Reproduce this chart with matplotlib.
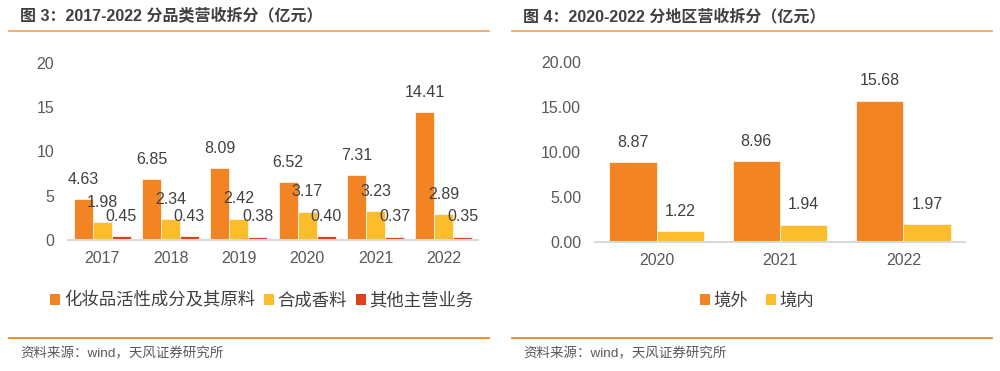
import matplotlib
matplotlib.use("Agg")
import matplotlib.pyplot as plt
from matplotlib.patches import Patch
from matplotlib.lines import Line2D
import numpy as np

plt.rcParams['font.family'] = ['Liberation Sans', 'Noto Sans CJK SC', 'DejaVu Sans']

# ---------------- data ----------------
years_left = ['2017', '2018', '2019', '2020', '2021', '2022']
cosmetic_active = [4.63, 6.85, 8.09, 6.52, 7.31, 14.41]
synthetic_fragrance = [1.98, 2.34, 2.42, 3.17, 3.23, 2.89]
other_main = [0.45, 0.43, 0.38, 0.40, 0.37, 0.35]
left_series_names = ['化妆品活性成分及其原料', '合成香料', '其他主营业务']
left_yticks = [0, 5, 10, 15, 20]

years_right = ['2020', '2021', '2022']
overseas = [8.87, 8.96, 15.68]
domestic = [1.22, 1.94, 1.97]
right_series_names = ['境外', '境内']
right_yticks = [0.0, 5.0, 10.0, 15.0, 20.0]

title_left = '图 3：2017-2022 分品类营收拆分（亿元）'
title_right = '图 4：2020-2022 分地区营收拆分（亿元）'
source_text = '资料来源：wind，天风证券研究所'

# ---------------- style ----------------
C_ORANGE = '#F28424'
C_YELLOW = '#FBBD2C'
C_RED = '#DF3F1C'
TXT = '#404040'
TICK = '#595959'
AXIS = '#D9D9D9'
LINE_TOP = '#F5A65E'
LINE_BOT = '#F58220'

W, H = 1000, 371
fig = plt.figure(figsize=(W / 100, H / 100), dpi=100)
fig.patch.set_facecolor('white')

def fy(py):
    return 1 - py / H

def fx(px):
    return px / W

PX = 0.72  # points per pixel

def style_axes(ax):
    for s in ['top', 'right', 'left']:
        ax.spines[s].set_visible(False)
    ax.spines['bottom'].set_color(AXIS)
    ax.spines['bottom'].set_linewidth(1.5)
    ax.tick_params(axis='both', length=0, colors=TICK, labelsize=11.5)
    ax.tick_params(axis='x', pad=8)
    ax.tick_params(axis='y', pad=10)
    ax.set_facecolor('none')

# ---------------- left chart ----------------
axL = fig.add_axes([fx(68), fy(240), fx(478) - fx(68), fy(63) - fy(240)])
n = len(years_left)
x = np.arange(n)
bw = 0.278
left_series = [cosmetic_active, synthetic_fragrance, other_main]
left_colors = [C_ORANGE, C_YELLOW, C_RED]
for i, (vals, col) in enumerate(zip(left_series, left_colors)):
    pos = x + (i - 1) * bw
    axL.bar(pos, vals, width=bw, color=col, edgecolor='#FFF3E6', linewidth=0.6, zorder=2)
    for p, v in zip(pos, vals):
        axL.annotate(f'{v:.2f}', xy=(p, v), xytext=(0, 20 * PX), textcoords='offset points',
                     ha='center', va='center', fontsize=11.5, color=TXT, zorder=3)
axL.set_xlim(-0.5, n - 0.5)
axL.set_ylim(0, 20)
axL.set_yticks(left_yticks)
axL.set_yticklabels([str(t) for t in left_yticks])
axL.set_xticks(x)
axL.set_xticklabels(years_left)
style_axes(axL)

handlesL = [Patch(facecolor=c, edgecolor='none') for c in left_colors]
fig.legend(handlesL, left_series_names, loc='center', bbox_to_anchor=(fx(262), fy(300)),
           ncol=3, frameon=False, fontsize=12.5, handlelength=0.6, handleheight=0.6,
           handletextpad=0.2, columnspacing=0.5, labelcolor=TXT)

# ---------------- right chart ----------------
axR = fig.add_axes([fx(595), fy(242), fx(965) - fx(595), fy(62) - fy(242)])
m = len(years_right)
xr = np.arange(m)
bw2 = 0.385
right_series = [overseas, domestic]
right_colors = [C_ORANGE, C_YELLOW]
for i, (vals, col) in enumerate(zip(right_series, right_colors)):
    pos = xr + (i - 0.5) * bw2
    axR.bar(pos, vals, width=bw2, color=col, edgecolor='#FFF3E6', linewidth=0.6, zorder=2)
    for p, v in zip(pos, vals):
        axR.annotate(f'{v:.2f}', xy=(p, v), xytext=(0, 20 * PX), textcoords='offset points',
                     ha='center', va='center', fontsize=11.5, color=TXT, zorder=3)
axR.set_xlim(-0.5, m - 0.5)
axR.set_ylim(0, 20)
axR.set_yticks(right_yticks)
axR.set_yticklabels([f'{t:.2f}' for t in right_yticks])
axR.set_xticks(xr)
axR.set_xticklabels(years_right)
style_axes(axR)

handlesR = [Patch(facecolor=c, edgecolor='none') for c in right_colors]
fig.legend(handlesR, right_series_names, loc='center', bbox_to_anchor=(fx(757), fy(300)),
           ncol=2, frameon=False, fontsize=12.5, handlelength=0.6, handleheight=0.6,
           handletextpad=0.2, columnspacing=1.0, labelcolor=TXT)

# ---------------- titles, lines, sources ----------------
fig.text(fx(20), fy(16), title_left, fontsize=11.5, fontweight='bold', color=TXT,
         ha='left', va='center')
fig.text(fx(523), fy(16), title_right, fontsize=11.5, fontweight='bold', color=TXT,
         ha='left', va='center')

for (x0, x1) in [(9, 489), (512, 992)]:
    fig.add_artist(Line2D([fx(x0), fx(x1)], [fy(31), fy(31)], color=LINE_TOP, linewidth=1.3,
                          transform=fig.transFigure))
    fig.add_artist(Line2D([fx(x0), fx(x1)], [fy(338), fy(338)], color=LINE_BOT, linewidth=1.3,
                          transform=fig.transFigure))

fig.text(fx(20), fy(354), source_text, fontsize=9.7, color='#595959', ha='left', va='center')
fig.text(fx(523), fy(354), source_text, fontsize=9.7, color='#595959', ha='left', va='center')

fig.savefig('out.png', dpi=100, facecolor='white')
